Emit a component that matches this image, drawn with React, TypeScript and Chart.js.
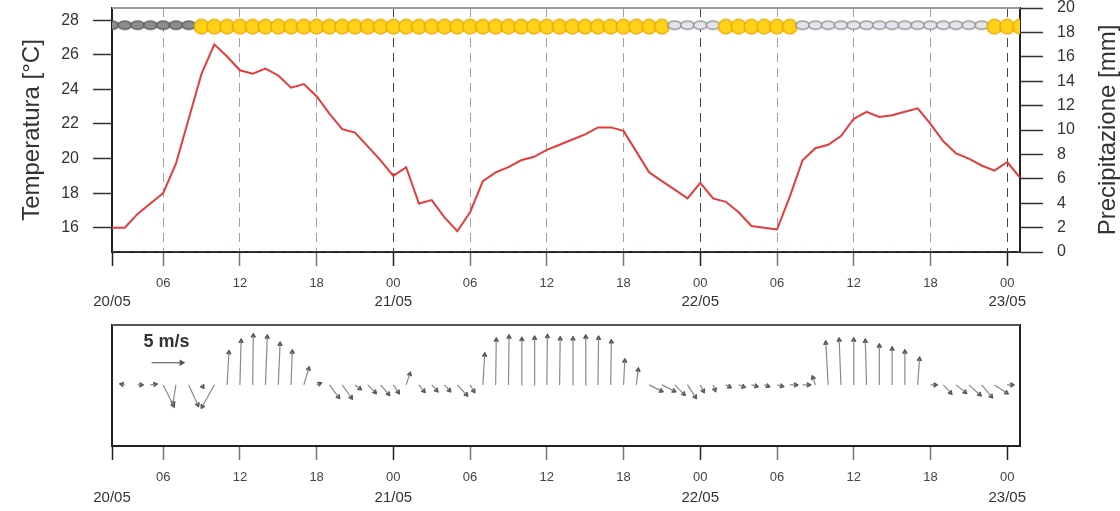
import React, { useEffect, useRef } from "react";
import { Chart, registerables } from "chart.js";
Chart.register(...registerables);

const FONT = '"Liberation Sans", Arial, Helvetica, sans-serif';
Chart.defaults.font.family = FONT;

// hours since 20/05 00:00
const hours = [
  2, 3, 4, 5, 6, 7, 8, 9, 10, 11, 12, 13, 14, 15, 16, 17, 18, 19, 20, 21, 22, 23, 24, 25,
  26, 27, 28, 29, 30, 31, 32, 33, 34, 35, 36, 37, 38, 39, 40, 41, 42, 43, 44, 45, 46, 47, 48, 49,
  50, 51, 52, 53, 54, 55, 56, 57, 58, 59, 60, 61, 62, 63, 64, 65, 66, 67, 68, 69, 70, 71, 72, 73,
];

const temperature = [
  16.0, 16.0, 16.8, 17.4, 18.0, 19.7, 22.3, 24.9, 26.6, 25.9, 25.1, 24.9, 25.2, 24.8, 24.1, 24.3,
  23.6, 22.6, 21.7, 21.5, 20.7, 19.9, 19.0, 19.5, 17.4, 17.6, 16.6, 15.8, 16.9, 18.7, 19.2, 19.5,
  19.9, 20.1, 20.5, 20.8, 21.1, 21.4, 21.8, 21.8, 21.6, 20.4, 19.2, 18.7, 18.2, 17.7, 18.6, 17.7,
  17.5, 16.9, 16.1, 16.0, 15.9, 17.8, 19.9, 20.6, 20.8, 21.3, 22.3, 22.7, 22.4, 22.5, 22.7, 22.9,
  22.0, 21.0, 20.3, 20.0, 19.6, 19.3, 19.8, 18.9,
];

const precipitation = [
  0, 0, 0, 0, 0, 0, 0, 0, 0, 0, 0, 0, 0, 0, 0, 0, 0, 0, 0, 0, 0, 0, 0, 0,
  0, 0, 0, 0, 0, 0, 0, 0, 0, 0, 0, 0, 0, 0, 0, 0, 0, 0, 0, 0, 0, 0, 0, 0,
  0, 0, 0, 0, 0, 0, 0, 0, 0, 0, 0, 0, 0, 0, 0, 0, 0, 0, 0, 0, 0, 0, 0, 0,
];

const weatherIcons = [
  "night", "night", "night", "night", "night", "night", "night",
  "sun", "sun", "sun", "sun", "sun", "sun", "sun", "sun", "sun", "sun", "sun", "sun", "sun",
  "sun", "sun", "sun", "sun", "sun", "sun", "sun", "sun", "sun", "sun", "sun", "sun", "sun",
  "sun", "sun", "sun", "sun", "sun", "sun", "sun", "sun", "sun", "sun", "sun",
  "cloud", "cloud", "cloud", "cloud",
  "sun", "sun", "sun", "sun", "sun", "sun",
  "cloud", "cloud", "cloud", "cloud", "cloud", "cloud", "cloud", "cloud", "cloud", "cloud",
  "cloud", "cloud", "cloud", "cloud", "cloud",
  "sun", "sun", "sun",
];
const iconLevel = 27.62;

// wind components (m/s): u eastward, v northward
const windU = [
  -0.7, -0.5, 0.6, 0.8, 1.7, -0.5, 1.5, 0.2, -2.0, 0.3, 0.2, 0.1, 0.3, 0.3, 0.2, 0.8,
  0.5, 1.5, 1.5, 0.8, 1.2, 1.3, 0.8, 0.6, 0.8, 0.8, 0.8, 1.5, 0.6, 0.3, 0.1, 0.1,
  0.1, 0.1, 0.1, 0.1, 0.1, 0.1, 0.1, 0.1, 0.2, 0.3, 2.0, 2.0, 1.5, 1.3, 0.5, 0.3,
  0.6, 0.8, 0.8, 0.6, 0.8, 1.0, 1.0, -0.4, -0.4, -0.3, 0.0, -0.2, 0.0, 0.0, 0.0, 0.3,
  0.8, 1.2, 1.5, 1.8, 1.6, 2.0, 0.8, 0.6,
];
const windV = [
  0.0, 0.1, 0.0, 0.1, -3.4, -3.0, -3.3, -0.3, -3.6, 5.4, 7.3, 8.2, 8.0, 6.8, 5.5, 2.7,
  0.2, -2.0, -2.1, -0.6, -1.2, -1.5, -1.2, 1.8, -1.0, -0.9, -0.9, -1.6, -1.0, 5.0, 7.5, 8.0,
  7.6, 7.8, 8.1, 7.7, 7.7, 8.0, 7.8, 7.2, 4.0, 2.5, -1.0, -1.0, -1.5, -2.0, -1.0, -0.8,
  -0.3, -0.3, -0.2, -0.2, -0.2, 0.0, 0.0, 1.2, 7.0, 7.5, 7.5, 7.3, 6.5, 6.0, 5.5, 4.3,
  0.0, -1.3, -1.2, -1.6, -1.9, -1.3, 0.0, 0.0,
];
// hours of x-axis per 1 m/s so that arrows keep their true shape
const windHoursPerMs = 0.468;
const refArrowHour = 5.1;
const refArrowLevel = 3.7;
const refArrowSpeed = 5;
const refArrowLabel = "5 m/s";

const hourTicks = [2, 6, 12, 18, 24, 30, 36, 42, 48, 54, 60, 66, 72];
const hourTickLabels = ["", "06", "12", "18", "00", "06", "12", "18", "00", "06", "12", "18", "00"];
const dateTicks = [2, 24, 48, 72];
const dateTickLabels = ["20/05", "21/05", "22/05", "23/05"];
const tempTicks = [16, 18, 20, 22, 24, 26, 28];
const precipTicks = [0, 2, 4, 6, 8, 10, 12, 14, 16, 18, 20];

const TEXT = "#333";

function isStrong(v: number) {
  return v === hourTicks[0] || v % 24 === 0;
}

function xAxes(hourH: number, dateH: number, datePad: number, gridOnArea: boolean) {
  return {
    x: {
      type: "linear",
      position: "bottom",
      weight: 0,
      min: 2,
      max: 73,
      offset: false,
      afterBuildTicks: (s: any) => {
        s.ticks = hourTicks.map((v) => ({ value: v }));
      },
      afterFit: (s: any) => {
        s.height = hourH;
        s.paddingLeft = 0;
        s.paddingRight = 0;
      },
      ticks: {
        autoSkip: false,
        maxRotation: 0,
        padding: 10,
        color: "#444",
        font: { size: 13 },
        callback: (_v: any, i: number) => hourTickLabels[i],
      },
      grid: {
        offset: false,
        drawOnChartArea: gridOnArea,
        tickLength: 14,
        tickWidth: 1.5,
        tickColor: (c: any) => (c.tick && isStrong(c.tick.value) ? "#222" : "#777"),
        lineWidth: 1,
        color: (c: any) => {
          const v = c.tick ? c.tick.value : 0;
          if (v === hourTicks[0]) return "rgba(0,0,0,0)";
          return v % 24 === 0 ? "#444" : "#a0a0a0";
        },
      },
      border: { display: true, color: "#222", width: 2, dash: [9, 6] },
    },
    xDate: {
      type: "linear",
      position: "bottom",
      weight: 1,
      min: 2,
      max: 73,
      offset: false,
      afterBuildTicks: (s: any) => {
        s.ticks = dateTicks.map((v) => ({ value: v }));
      },
      afterFit: (s: any) => {
        s.height = dateH;
        s.paddingLeft = 0;
        s.paddingRight = 0;
      },
      ticks: {
        autoSkip: false,
        maxRotation: 0,
        padding: datePad,
        color: TEXT,
        font: { size: 15 },
        callback: (_v: any, i: number) => dateTickLabels[i],
      },
      grid: { display: false, drawTicks: false, offset: false },
      border: { display: false },
    },
  };
}

function makeIcon(kind: string) {
  const c = document.createElement("canvas");
  c.width = 17;
  c.height = 17;
  const g = c.getContext("2d")!;
  g.beginPath();
  if (kind === "sun") {
    g.arc(8.5, 8.5, 7.3, 0, Math.PI * 2);
    g.fillStyle = "#ffd21a";
    g.fill();
    g.lineWidth = 1.3;
    g.strokeStyle = "#eba300";
    g.stroke();
  } else if (kind === "night") {
    g.ellipse(8.5, 7, 6.8, 4.2, 0, 0, Math.PI * 2);
    g.fillStyle = "#8c8c8c";
    g.fill();
    g.lineWidth = 1.2;
    g.strokeStyle = "#555";
    g.stroke();
  } else {
    g.ellipse(8.5, 7, 6.8, 4.2, 0, 0, Math.PI * 2);
    g.fillStyle = "#e4e4ea";
    g.fill();
    g.lineWidth = 1.2;
    g.strokeStyle = "#8a8a8a";
    g.stroke();
  }
  return c;
}

const topDeco = {
  id: "topDeco",
  afterDraw(chart: any) {
    const { ctx, chartArea } = chart;
    ctx.save();
    ctx.strokeStyle = "#9a9a9a";
    ctx.lineWidth = 2;
    ctx.beginPath();
    ctx.moveTo(chartArea.left, chartArea.top);
    ctx.lineTo(chartArea.right, chartArea.top);
    ctx.stroke();
    ctx.translate(chartArea.right + 88, (chartArea.top + chartArea.bottom) / 2);
    ctx.rotate(-Math.PI / 2);
    ctx.font = `24px ${FONT}`;
    ctx.fillStyle = TEXT;
    ctx.textAlign = "center";
    ctx.textBaseline = "middle";
    ctx.fillText("Precipitazione [mm]", 0, 0);
    ctx.restore();
  },
};

const windDeco = {
  id: "windDeco",
  afterDraw(chart: any) {
    const { ctx, chartArea, scales } = chart;
    ctx.save();
    ctx.strokeStyle = "#555";
    ctx.lineWidth = 2;
    ctx.beginPath();
    ctx.moveTo(chartArea.left, chartArea.top);
    ctx.lineTo(chartArea.right, chartArea.top);
    ctx.stroke();
    const x0 = scales.x.getPixelForValue(refArrowHour);
    const x1 = scales.x.getPixelForValue(refArrowHour + refArrowSpeed * windHoursPerMs);
    const y = scales.y.getPixelForValue(refArrowLevel);
    ctx.font = `bold 18px ${FONT}`;
    ctx.fillStyle = TEXT;
    ctx.textAlign = "center";
    ctx.textBaseline = "middle";
    ctx.fillText(refArrowLabel, (x0 + x1) / 2, y - 21);
    ctx.restore();
  },
};

function noPad(s: any) {
  s.paddingTop = 0;
  s.paddingBottom = 0;
}

export default function App() {
  const topRef = useRef<HTMLCanvasElement>(null);
  const windRef = useRef<HTMLCanvasElement>(null);

  useEffect(() => {
    const icons: Record<string, HTMLCanvasElement> = {
      sun: makeIcon("sun"),
      night: makeIcon("night"),
      cloud: makeIcon("cloud"),
    };

    const c1 = new Chart(topRef.current!, {
      type: "line",
      data: {
        datasets: [
          {
            type: "scatter",
            label: "Tempo",
            data: hours.map((h) => ({ x: h, y: iconLevel })),
            pointStyle: (c: any) => icons[weatherIcons[c.dataIndex]],
            pointRadius: 7,
            yAxisID: "y",
            xAxisID: "x",
            order: 0,
          } as any,
          {
            type: "line",
            label: "Temperatura",
            data: hours.map((h, i) => ({ x: h, y: temperature[i] })),
            borderColor: "#e53b3b",
            borderWidth: 2,
            pointRadius: 0,
            tension: 0,
            yAxisID: "y",
            xAxisID: "x",
            order: 1,
          },
          {
            type: "bar",
            label: "Precipitazione",
            data: hours.map((h, i) => ({ x: h, y: precipitation[i] })),
            backgroundColor: "#4a7fd8",
            borderWidth: 0,
            barThickness: 8,
            yAxisID: "y1",
            xAxisID: "x",
            order: 2,
          } as any,
        ],
      },
      options: {
        responsive: false,
        animation: false,
        devicePixelRatio: 1,
        layout: { padding: { top: 8, left: 0, right: 0, bottom: 0 } },
        plugins: { legend: { display: false }, tooltip: { enabled: false } },
        scales: {
          ...xAxes(38, 20, 3, true),
          y: {
            position: "left",
            min: 14.6,
            max: 28.7,
            afterBuildTicks: (s: any) => {
              s.ticks = tempTicks.map((v) => ({ value: v }));
            },
            afterFit: (s: any) => {
              s.width = 112;
              noPad(s);
            },
            ticks: { padding: 14, color: TEXT, font: { size: 16 } },
            grid: { drawOnChartArea: false, tickLength: 19, color: "#333", tickWidth: 1.5 },
            border: { display: true, color: "#222", width: 2 },
            title: {
              display: true,
              text: "Temperatura [°C]",
              color: TEXT,
              font: { size: 24 },
              padding: { top: 18, bottom: 0 },
            },
          },
          y1: {
            position: "right",
            min: 0,
            max: 20,
            afterBuildTicks: (s: any) => {
              s.ticks = precipTicks.map((v) => ({ value: v }));
            },
            afterFit: (s: any) => {
              s.width = 100;
              noPad(s);
            },
            ticks: { padding: 14, color: TEXT, font: { size: 16 } },
            grid: { drawOnChartArea: false, tickLength: 23, color: "#333", tickWidth: 1.5 },
            border: { display: true, color: "#222", width: 2 },
          },
        } as any,
      },
      plugins: [topDeco],
    });

    const shafts: any[] = [];
    const heads: any[] = [];
    const headAngles: number[] = [];
    hours.forEach((h, i) => {
      const tipX = h + windU[i] * windHoursPerMs;
      shafts.push({ x: h, y: 0 }, { x: tipX, y: windV[i] }, { x: tipX, y: null });
      heads.push({ x: tipX, y: windV[i] });
      headAngles.push((Math.atan2(windU[i], windV[i]) * 180) / Math.PI);
    });
    const refTip = refArrowHour + refArrowSpeed * windHoursPerMs;

    const c2 = new Chart(windRef.current!, {
      type: "line",
      data: {
        datasets: [
          {
            type: "line",
            label: "Vento",
            data: shafts,
            borderColor: "#8a8a8a",
            borderWidth: 1.2,
            pointRadius: 0,
            spanGaps: false,
            yAxisID: "y",
            xAxisID: "x",
          },
          {
            type: "scatter",
            label: "Vento punte",
            data: heads,
            pointStyle: "triangle",
            pointRadius: 2.6,
            rotation: (c: any) => headAngles[c.dataIndex],
            backgroundColor: "#555",
            borderColor: "#555",
            borderWidth: 1,
            yAxisID: "y",
            xAxisID: "x",
          } as any,
          {
            type: "line",
            label: "Scala",
            data: [
              { x: refArrowHour, y: refArrowLevel },
              { x: refTip, y: refArrowLevel },
            ],
            borderColor: "#666",
            borderWidth: 1.2,
            pointRadius: [0, 2.6],
            pointStyle: "triangle",
            rotation: 90,
            pointBackgroundColor: "#555",
            pointBorderColor: "#555",
            yAxisID: "y",
            xAxisID: "x",
          } as any,
        ],
      },
      options: {
        responsive: false,
        animation: false,
        devicePixelRatio: 1,
        layout: { padding: { top: 15, left: 0, right: 0, bottom: 0 } },
        plugins: { legend: { display: false }, tooltip: { enabled: false } },
        scales: {
          ...xAxes(38, 27, 5, false),
          y: {
            position: "left",
            min: -10.2,
            max: 10,
            afterFit: (s: any) => {
              s.width = 112;
              noPad(s);
            },
            ticks: { display: false },
            grid: { display: false, drawTicks: false },
            border: { display: true, color: "#222", width: 2 },
          },
          y2: {
            position: "right",
            min: -10.2,
            max: 10,
            afterFit: (s: any) => {
              s.width = 100;
              noPad(s);
            },
            ticks: { display: false },
            grid: { display: false, drawTicks: false },
            border: { display: true, color: "#222", width: 2 },
          },
        } as any,
      },
      plugins: [windDeco],
    });

    return () => {
      c1.destroy();
      c2.destroy();
    };
  }, []);

  return (
    <div style={{ position: "absolute", left: 0, top: 0, width: 1120, height: 511, background: "#fff" }}>
      <div style={{ position: "absolute", left: 0, top: 0, width: 1120, height: 310 }}>
        <canvas ref={topRef} width={1120} height={310} style={{ display: "block" }} />
      </div>
      <div style={{ position: "absolute", left: 0, top: 310, width: 1120, height: 201 }}>
        <canvas ref={windRef} width={1120} height={201} style={{ display: "block" }} />
      </div>
    </div>
  );
}
